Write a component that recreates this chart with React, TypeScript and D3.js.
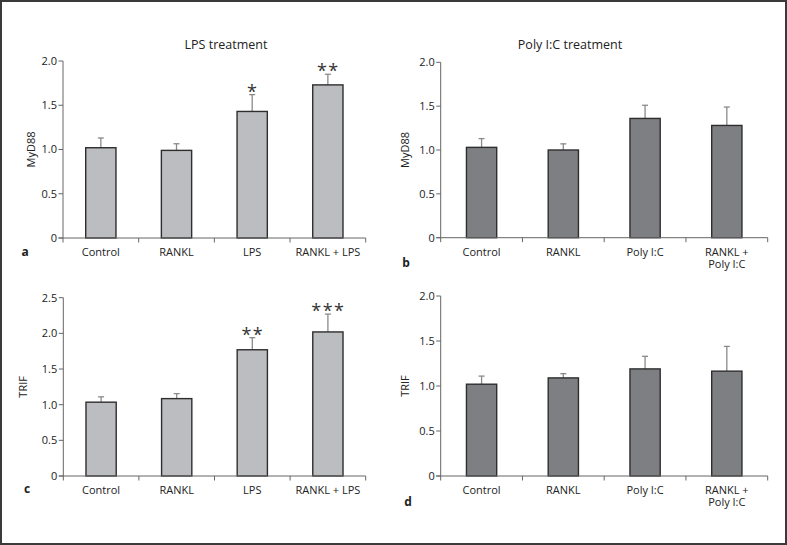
import React from "react";
import * as d3 from "d3";

const lpsCategories = ["Control", "RANKL", "LPS", "RANKL + LPS"];
const polyCategories = ["Control", "RANKL", "Poly I:C", "RANKL +\nPoly I:C"];

const myd88LpsMean = [1.02, 0.99, 1.43, 1.73];
const myd88LpsErr = [0.11, 0.075, 0.19, 0.12];
const myd88LpsStars = ["", "", "*", "**"];

const myd88PolyMean = [1.03, 1.0, 1.36, 1.28];
const myd88PolyErr = [0.1, 0.07, 0.15, 0.21];

const trifLpsMean = [1.035, 1.085, 1.77, 2.02];
const trifLpsErr = [0.075, 0.07, 0.17, 0.25];
const trifLpsStars = ["", "", "**", "***"];

const trifPolyMean = [1.02, 1.09, 1.19, 1.165];
const trifPolyErr = [0.09, 0.047, 0.14, 0.275];

const ticks20 = [0, 0.5, 1.0, 1.5, 2.0];
const ticks25 = [0, 0.5, 1.0, 1.5, 2.0, 2.5];
const tickFmt = (v: number) => (v === 0 ? "0" : v.toFixed(1));

const FONT = "'Open Sans', 'Noto Sans', sans-serif";
const TEXT = "#222";
const AXIS = "#666";

type PanelProps = {
  cats: string[];
  mean: number[];
  err: number[];
  stars?: string[];
  ticks: number[];
  x0: number;
  x1: number;
  yTop: number;
  yBot: number;
  fill: string;
  yTitle: string;
  yTitleX: number;
  letter: string;
  letterX: number;
  letterY: number;
  padding: number;
};

function Panel(p: PanelProps) {
  const x = d3.scaleBand<string>().domain(p.cats).range([p.x0, p.x1]).paddingInner(p.padding).paddingOuter(p.padding / 2);
  const yMax = p.ticks[p.ticks.length - 1];
  const y = d3.scaleLinear().domain([0, yMax]).range([p.yBot, p.yTop]);
  const step = x.step();
  const bounds = d3.range(p.cats.length + 1).map((i) => p.x0 + i * step);
  return (
    <g>
      {p.cats.map((c, i) => {
        const bx = x(c)!;
        const bw = x.bandwidth();
        const top = y(p.mean[i]);
        const cx = bx + bw / 2;
        const et = y(p.mean[i] + p.err[i]);
        return (
          <g key={c}>
            <line x1={cx} x2={cx} y1={top} y2={et} stroke="#8a8a8a" strokeWidth={1.3} />
            <line x1={cx - 3} x2={cx + 3} y1={et} y2={et} stroke="#8a8a8a" strokeWidth={1.3} />
            <rect x={bx} y={top} width={bw} height={p.yBot - top} fill={p.fill} stroke="#2e2e2e" strokeWidth={1.4} />
            {p.stars && p.stars[i] ? (
              <text x={cx + 0.5} y={et + 3} textAnchor="middle" fontSize={18} fill="#333" fontFamily={FONT} letterSpacing={1.5}>
                {p.stars[i]}
              </text>
            ) : null}
          </g>
        );
      })}
      <line x1={p.x0} x2={p.x0} y1={p.yTop} y2={p.yBot} stroke={AXIS} strokeWidth={1} />
      {p.ticks.map((t) => (
        <g key={t}>
          <line x1={p.x0 - 4.5} x2={p.x0} y1={y(t)} y2={y(t)} stroke={AXIS} strokeWidth={1} />
          <text x={p.x0 - 6} y={y(t)} dy="0.35em" textAnchor="end" fontSize={11} fill={TEXT} fontFamily={FONT}>
            {tickFmt(t)}
          </text>
        </g>
      ))}
      <line x1={p.x0 - 4.5} x2={p.x1} y1={p.yBot} y2={p.yBot} stroke={AXIS} strokeWidth={1} />
      {bounds.map((bx, i) => (
        <line key={i} x1={bx} x2={bx} y1={p.yBot} y2={p.yBot + 4.5} stroke={AXIS} strokeWidth={1} />
      ))}
      {p.cats.map((c) => {
        const cx = x(c)! + x.bandwidth() / 2;
        const lines = c.split("\n");
        return (
          <g key={c}>
            {lines.map((l, j) => (
              <text key={j} x={cx} y={p.yBot + 14 + j * 12} dy="0.35em" textAnchor="middle" fontSize={11} fill={TEXT} fontFamily={FONT}>
                {l}
              </text>
            ))}
          </g>
        );
      })}
      <text
        transform={`translate(${p.yTitleX},${(p.yTop + p.yBot) / 2}) rotate(-90)`}
        textAnchor="middle"
        dy="0.35em"
        fontSize={11}
        fill={TEXT}
        fontFamily={FONT}
      >
        {p.yTitle}
      </text>
      <text x={p.letterX} y={p.letterY} dy="0.35em" textAnchor="middle" fontSize={12} fontWeight="bold" fill={TEXT} fontFamily={FONT}>
        {p.letter}
      </text>
    </g>
  );
}

export default function App() {
  return (
    <svg width={787} height={545} style={{ position: "absolute", left: 0, top: 0, background: "#fff" }}>
      <rect x={0} y={0} width={787} height={545} fill="#fff" />
      <rect x={1} y={1} width={785} height={543} fill="none" stroke="#3a3a3a" strokeWidth={2} />
      <text x={226} y={45} dy="0.35em" textAnchor="middle" fontSize={12.5} fill={TEXT} fontFamily={FONT}>
        LPS treatment
      </text>
      <text x={570} y={45} dy="0.35em" textAnchor="middle" fontSize={12.5} fill={TEXT} fontFamily={FONT}>
        Poly I:C treatment
      </text>
      <Panel
        cats={lpsCategories}
        mean={myd88LpsMean}
        err={myd88LpsErr}
        stars={myd88LpsStars}
        ticks={ticks20}
        x0={63}
        x1={365.7}
        yTop={61}
        yBot={238}
        fill="#bcbdc0"
        yTitle="MyD88"
        yTitleX={31}
        letter="a"
        letterX={25}
        letterY={251.5}
        padding={0.6}
      />
      <Panel
        cats={polyCategories}
        mean={myd88PolyMean}
        err={myd88PolyErr}
        ticks={ticks20}
        x0={440.7}
        x1={767.7}
        yTop={62.3}
        yBot={237.7}
        fill="#7e7f82"
        yTitle="MyD88"
        yTitleX={405}
        letter="b"
        letterX={406}
        letterY={263}
        padding={0.63}
      />
      <Panel
        cats={lpsCategories}
        mean={trifLpsMean}
        err={trifLpsErr}
        stars={trifLpsStars}
        ticks={ticks25}
        x0={63.3}
        x1={365.7}
        yTop={297.7}
        yBot={476}
        fill="#bcbdc0"
        yTitle="TRIF"
        yTitleX={23.5}
        letter="c"
        letterX={27}
        letterY={489}
        padding={0.6}
      />
      <Panel
        cats={polyCategories}
        mean={trifPolyMean}
        err={trifPolyErr}
        ticks={ticks20}
        x0={440.7}
        x1={767.7}
        yTop={296}
        yBot={476}
        fill="#7e7f82"
        yTitle="TRIF"
        yTitleX={405}
        letter="d"
        letterX={408}
        letterY={501.5}
        padding={0.63}
      />
    </svg>
  );
}
